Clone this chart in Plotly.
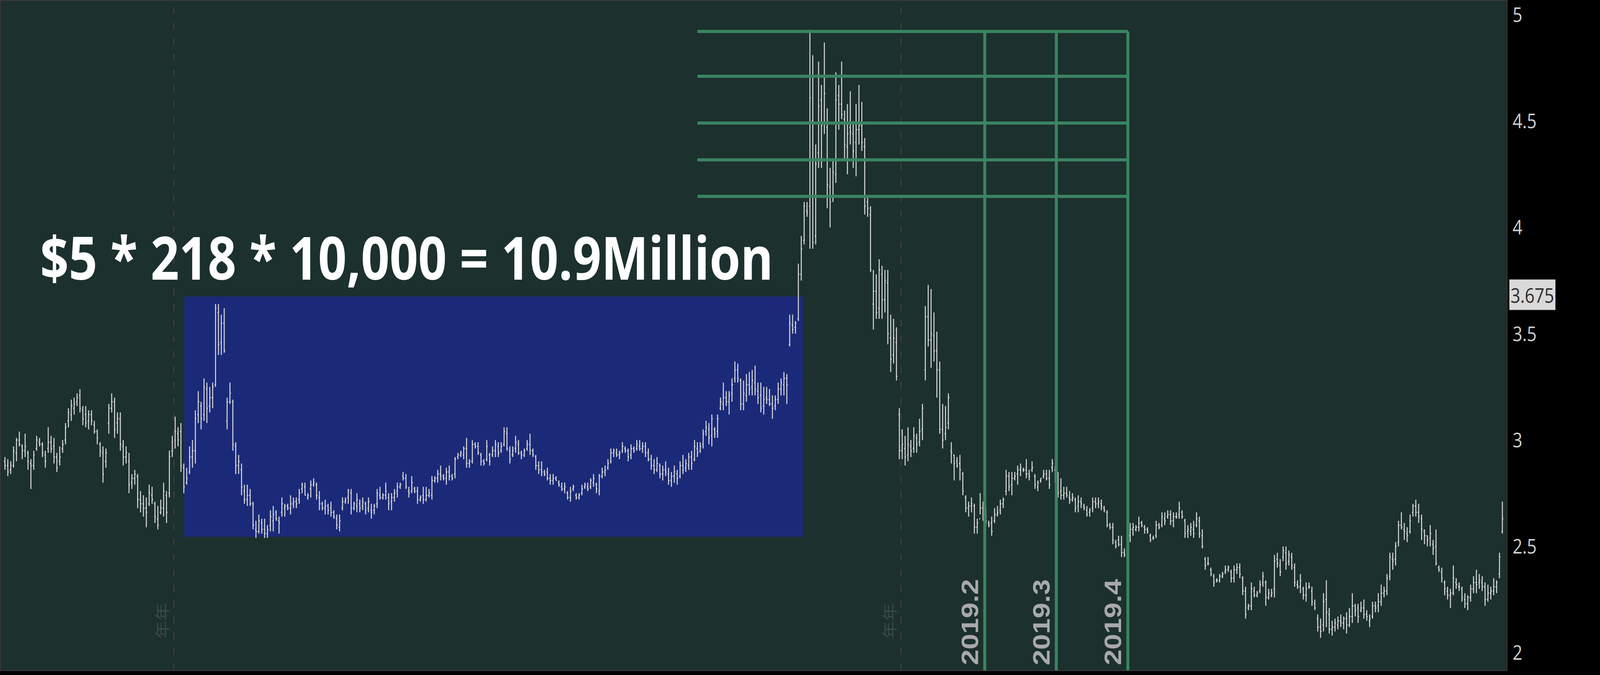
import plotly.graph_objects as go

# ---------------- data (daily OHLC bars) ----------------
OPEN = [
 2.90,2.88,2.86,2.88,2.94,3.00,2.97,2.95,2.94,2.89, 2.88,2.96,2.99,2.98,2.93,2.96,2.99,2.97,2.92,2.90,
 2.96,3.00,3.09,3.12,3.15,3.18,3.21,3.14,3.12,3.09, 3.12,3.07,3.04,2.98,2.94,2.90,3.08,3.15,3.18,3.08,
 3.10,2.97,2.92,2.90,2.80,2.82,2.83,2.72,2.70,2.68, 2.70,2.74,2.70,2.63,2.66,2.68,2.74,2.75,2.95,3.00,
 3.03,3.04,
 2.87,2.80,2.85,2.92,2.95,3.12,3.16,3.12,3.24,3.16, 3.20,3.26,3.60,3.46,3.55,3.09,3.18,3.18,2.97,2.88,
 2.86,2.76,2.72,2.74,2.70,2.58,2.57,2.61,2.58,2.56, 2.60,2.62,2.66,2.62,2.66,2.68,2.69,2.68,2.70,2.71,
 2.72,2.77,2.78,2.73,2.77,2.79,2.79,2.73,2.70,2.68, 2.69,2.68,2.66,2.63,2.59,2.68,2.71,2.73,2.75,2.68,
 2.69,2.70,2.69,2.70,2.68,2.67,2.67,2.70,2.74,2.73, 2.74,2.73,2.71,2.73,2.76,2.78,2.83,2.82,2.76,
 2.76,2.77,2.76,2.72,2.74,2.72,2.74,2.74,2.81,2.82, 2.84,2.83,2.82,2.85,2.83,2.84,2.92,2.93,2.93,2.96,
 2.89,2.90,2.98,2.97,2.93,2.90,2.91,2.93,2.93,2.95, 2.97,2.95,2.98,3.03,2.95,2.93,2.96,2.98,2.94,2.93,
 2.96,2.98,2.95,2.92,2.88,2.86,2.85,2.85,2.82,2.81, 2.82,2.80,2.78,2.77,2.75,2.73,2.77,2.74,2.73,2.75,
 2.78,2.78,2.78,2.80,2.79,2.76,2.83,2.85,2.87,2.90, 2.94,2.94,2.93,2.95,2.96,2.95,2.93,2.96,2.96,2.97,2.96,
 2.97,2.94,2.91,2.88,2.86,2.88,2.84,2.86,2.84,2.81, 2.83,2.84,2.83,2.88,2.87,2.88,2.92,2.91,2.96,2.95,
 2.98,3.04,3.05,3.02,3.05,3.04,3.15,3.17,3.20,3.18, 3.22,3.29,3.33,3.28,3.17,3.21,3.26,3.25,3.27,3.23,
 3.21,3.16,3.20,3.19,3.17,3.16,3.19,3.24,3.26,3.29, 3.45,3.54,3.53,3.57,3.78,3.94,4.08,4.10,4.50,3.96,
 4.35,4.60,4.49,4.47,4.19,4.14,4.25,4.62,4.58,4.51, 4.38,4.47,4.44,4.40,4.46,4.48,4.38,4.12,4.06,3.64,
 3.70,3.62,3.78,3.66,3.74,3.48,3.40,3.46,3.12,2.95, 2.96,2.93,2.97,2.96,3.01,2.99,3.05,3.33,3.58,3.47,
 3.49,3.42,3.33,3.05,3.03,3.08,2.95,2.93,2.90,2.89, 2.84,2.73,2.68,2.69,2.69,2.59,2.63,2.68,2.65,2.61,
 2.61,2.62,2.65,2.67,2.70,2.76,2.83,2.79,2.82,2.84, 2.86,2.86,2.86,2.84,2.86,2.83,2.78,2.81,2.83,2.84,
 2.82,2.87,2.86,2.80,2.76,2.74,2.75,2.73,2.72,2.72, 2.69,2.71,2.69,2.67,2.66,2.68,2.71,2.70,2.70,2.68,
 2.66,2.60,2.59,2.52,
 2.53,2.51,2.47,2.48,2.55,2.58,2.58,2.59,2.61,2.59, 2.58,2.55,2.54,2.55,2.60,2.60,2.63,2.64,2.65,2.62,
 2.64,2.65,2.66,2.62,2.57,2.57,2.58,2.60,2.62,2.55, 2.44,2.42,2.39,2.36,2.34,2.34,2.36,2.38,2.39,2.38,
 2.35,2.39,2.40,2.35,2.29,2.21,2.22,2.29,2.27,2.29, 2.33,2.33,2.26,2.27,2.30,2.44,2.41,2.45,2.47,2.43,
 2.45,2.40,2.32,2.31,2.30,2.27,2.31,2.29,2.23,2.16, 2.12,2.13,2.25,2.18,2.11,2.12,2.13,2.15,2.14,2.16,
 2.13,2.17,2.22,2.21,2.20,2.21,2.18,2.15,2.17,2.22, 2.22,2.24,2.28,2.29,2.36,2.44,2.44,2.52,2.60,2.58,
 2.56,2.57,2.66,2.69,2.66,2.63,2.57,2.55,2.54,2.51, 2.50,2.40,2.38,2.33,2.29,2.27,2.28,2.33,2.31,2.30,
 2.25,2.23,2.26,2.30,2.33,2.33,2.33,2.31,2.25,2.28, 2.29,2.31,2.37,2.57,
]
HIGH = [
 2.92,2.91,2.90,2.97,3.01,3.04,2.98,3.03,2.95,2.91, 2.95,3.02,3.01,2.99,2.95,3.06,3.02,3.01,2.94,2.97,
 3.00,3.08,3.15,3.19,3.20,3.22,3.24,3.16,3.16,3.14, 3.14,3.09,3.05,2.99,2.97,2.96,3.17,3.22,3.20,3.13,
 3.13,3.00,2.97,2.94,2.84,2.86,2.84,2.76,2.74,2.73, 2.79,2.78,2.71,2.69,2.72,2.80,2.76,2.95,3.02,3.11,
 3.06,3.08,
 2.89,2.87,2.97,3.00,3.14,3.23,3.18,3.29,3.27,3.25, 3.27,3.64,3.64,3.59,3.62,3.20,3.27,3.19,2.99,2.93,
 2.89,2.79,2.79,2.77,2.71,2.62,2.65,2.63,2.63,2.60, 2.67,2.69,2.67,2.64,2.73,2.70,2.70,2.74,2.73,2.73,
 2.77,2.80,2.80,2.75,2.81,2.82,2.80,2.76,2.71,2.72, 2.70,2.71,2.67,2.65,2.65,2.73,2.73,2.77,2.77,2.71,
 2.75,2.72,2.73,2.71,2.73,2.70,2.70,2.77,2.78,2.75, 2.80,2.75,2.75,2.77,2.80,2.80,2.85,2.84,2.78,
 2.83,2.78,2.78,2.74,2.78,2.78,2.77,2.83,2.83,2.86, 2.88,2.84,2.87,2.88,2.84,2.92,2.94,2.95,2.97,3.01,
 2.91,3.00,2.99,2.99,2.94,2.91,3.00,2.94,2.97,3.00, 2.99,2.99,3.06,3.06,2.97,2.97,3.02,3.00,2.95,2.96,
 3.00,3.03,2.96,2.93,2.90,2.90,2.86,2.87,2.84,2.84, 2.83,2.81,2.80,2.80,2.76,2.78,2.79,2.75,2.75,2.79,
 2.80,2.80,2.82,2.84,2.80,2.84,2.87,2.88,2.91,2.96, 2.96,2.96,2.95,2.99,2.97,2.96,2.98,2.97,3.00,3.00,2.99,
 2.99,2.96,2.93,2.91,2.92,2.89,2.88,2.90,2.87,2.85, 2.88,2.86,2.90,2.93,2.91,2.94,2.95,3.00,2.99,2.99,
 3.05,3.09,3.08,3.12,3.06,3.12,3.20,3.27,3.23,3.23, 3.29,3.37,3.36,3.29,3.28,3.31,3.32,3.33,3.35,3.27,
 3.27,3.25,3.25,3.24,3.21,3.21,3.27,3.29,3.32,3.31, 3.59,3.59,3.56,3.83,3.96,4.12,4.12,4.93,4.81,4.39,
 4.78,4.67,4.87,4.56,4.28,4.32,4.73,4.67,4.78,4.55, 4.58,4.64,4.50,4.58,4.67,4.59,4.42,4.14,4.10,3.80,
 3.78,3.85,3.82,3.80,3.80,3.59,3.57,3.53,3.15,3.05, 3.02,3.06,3.00,3.06,3.03,3.10,3.17,3.63,3.73,3.71,
 3.60,3.51,3.37,3.17,3.16,3.22,2.99,2.93,2.92,2.93, 2.85,2.74,2.71,2.73,2.70,2.63,2.75,2.71,2.68,2.62,
 2.64,2.68,2.69,2.72,2.73,2.86,2.85,2.85,2.85,2.88, 2.89,2.87,2.91,2.86,2.90,2.84,2.81,2.82,2.86,2.86,
 2.86,2.91,2.88,2.85,2.82,2.78,2.78,2.76,2.75,2.73, 2.74,2.73,2.70,2.69,2.68,2.73,2.73,2.73,2.72,2.69,
 2.67,2.61,2.61,2.53,
 2.55,2.55,2.49,2.56,2.61,2.61,2.60,2.64,2.62,2.60, 2.59,2.56,2.55,2.62,2.61,2.66,2.66,2.67,2.67,2.66,
 2.66,2.71,2.67,2.63,2.60,2.61,2.62,2.66,2.64,2.58, 2.45,2.45,2.40,2.37,2.35,2.37,2.38,2.41,2.41,2.39,
 2.41,2.42,2.42,2.36,2.31,2.23,2.33,2.31,2.29,2.34, 2.38,2.34,2.30,2.30,2.46,2.47,2.44,2.50,2.50,2.48,
 2.47,2.42,2.34,2.37,2.31,2.33,2.33,2.31,2.25,2.18, 2.16,2.28,2.34,2.21,2.15,2.16,2.17,2.18,2.17,2.19,
 2.21,2.28,2.23,2.23,2.24,2.25,2.20,2.18,2.24,2.24, 2.28,2.32,2.31,2.37,2.47,2.47,2.52,2.62,2.66,2.61,
 2.59,2.65,2.70,2.72,2.70,2.65,2.58,2.55,2.60,2.53, 2.58,2.41,2.40,2.34,2.31,2.30,2.41,2.35,2.33,2.31,
 2.28,2.27,2.32,2.36,2.39,2.37,2.36,2.33,2.32,2.31, 2.35,2.34,2.47,2.71,
]
LOW = [
 2.86,2.83,2.84,2.87,2.90,2.97,2.91,2.92,2.86,2.77, 2.86,2.95,2.97,2.92,2.87,2.94,2.94,2.89,2.85,2.88,
 2.94,2.98,3.06,3.09,3.12,3.16,3.13,3.07,3.06,3.05, 3.07,3.03,2.98,2.92,2.80,2.87,3.03,3.13,3.01,3.03,
 2.95,2.88,2.89,2.75,2.77,2.79,2.68,2.66,2.64,2.59, 2.69,2.70,2.61,2.58,2.65,2.64,2.61,2.73,2.92,2.96,
 2.97,2.85,
 2.75,2.79,2.84,2.87,2.89,3.08,3.05,3.09,3.08,3.13, 3.15,3.25,3.40,3.40,3.41,3.05,3.17,2.95,2.84,2.84,
 2.74,2.70,2.69,2.69,2.58,2.54,2.56,2.56,2.54,2.54, 2.57,2.57,2.62,2.56,2.64,2.64,2.67,2.65,2.68,2.68,
 2.70,2.75,2.74,2.72,2.73,2.78,2.72,2.67,2.67,2.65, 2.65,2.64,2.63,2.58,2.57,2.67,2.70,2.70,2.65,2.67,
 2.66,2.66,2.67,2.65,2.66,2.63,2.65,2.68,2.72,2.72, 2.72,2.67,2.67,2.71,2.73,2.77,2.81,2.77,2.73,
 2.75,2.75,2.70,2.71,2.70,2.71,2.73,2.72,2.80,2.80, 2.81,2.81,2.79,2.81,2.81,2.82,2.91,2.92,2.91,2.87,
 2.87,2.89,2.96,2.93,2.88,2.88,2.90,2.88,2.92,2.92, 2.92,2.94,2.97,2.95,2.89,2.92,2.94,2.93,2.91,2.92,
 2.95,2.93,2.92,2.86,2.84,2.83,2.83,2.81,2.79,2.79, 2.81,2.78,2.76,2.75,2.72,2.71,2.76,2.72,2.72,2.74,
 2.77,2.76,2.77,2.78,2.75,2.74,2.82,2.83,2.86,2.89, 2.92,2.92,2.91,2.94,2.94,2.90,2.91,2.94,2.95,2.95,2.94,
 2.92,2.90,2.86,2.84,2.85,2.82,2.81,2.83,2.79,2.78, 2.80,2.79,2.82,2.84,2.85,2.86,2.86,2.90,2.92,2.94,
 2.96,3.02,2.98,2.97,3.01,3.01,3.14,3.14,3.16,3.12, 3.18,3.27,3.27,3.14,3.14,3.18,3.21,3.21,3.21,3.17,
 3.13,3.12,3.17,3.16,3.10,3.14,3.17,3.21,3.21,3.17, 3.44,3.50,3.50,3.56,3.75,3.92,4.05,3.90,3.90,3.92,
 4.28,4.28,4.44,4.09,4.00,4.12,4.21,4.46,4.51,4.32, 4.25,4.39,4.28,4.24,4.39,4.36,4.06,4.05,3.79,3.52,
 3.57,3.57,3.57,3.60,3.45,3.32,3.36,3.28,2.91,2.91, 2.88,2.90,2.92,2.94,2.94,2.97,3.00,3.28,3.44,3.34,
 3.37,3.20,3.03,2.96,3.00,3.05,2.89,2.81,2.87,2.81, 2.74,2.66,2.64,2.66,2.56,2.56,2.65,2.62,2.60,2.59,
 2.55,2.61,2.64,2.65,2.68,2.74,2.76,2.74,2.81,2.79, 2.83,2.85,2.82,2.81,2.85,2.77,2.76,2.80,2.82,2.81,
 2.77,2.85,2.80,2.73,2.72,2.72,2.73,2.70,2.71,2.66, 2.66,2.68,2.67,2.64,2.64,2.66,2.68,2.68,2.67,2.66,
 2.59,2.58,2.51,2.49,
 2.50,2.45,2.45,2.47,2.52,2.55,2.57,2.57,2.59,2.56, 2.56,2.52,2.53,2.54,2.58,2.59,2.60,2.63,2.60,2.59,
 2.63,2.63,2.63,2.54,2.54,2.55,2.54,2.59,2.54,2.49, 2.39,2.41,2.36,2.31,2.33,2.33,2.35,2.37,2.38,2.33,
 2.33,2.37,2.35,2.27,2.16,2.20,2.20,2.26,2.26,2.28, 2.31,2.22,2.25,2.26,2.26,2.40,2.36,2.43,2.39,2.41,
 2.39,2.31,2.30,2.28,2.25,2.24,2.30,2.22,2.20,2.10, 2.07,2.10,2.12,2.09,2.08,2.10,2.11,2.12,2.11,2.09,
 2.12,2.14,2.17,2.14,2.19,2.16,2.15,2.12,2.16,2.19, 2.19,2.22,2.26,2.27,2.34,2.39,2.41,2.50,2.58,2.53,
 2.52,2.56,2.64,2.64,2.61,2.53,2.51,2.50,2.50,2.46, 2.41,2.38,2.33,2.27,2.25,2.21,2.27,2.30,2.29,2.24,
 2.21,2.20,2.24,2.28,2.28,2.30,2.29,2.22,2.24,2.25, 2.27,2.28,2.35,2.56,
]
CLOSE = [
 2.88,2.85,2.88,2.95,3.00,2.98,2.95,2.97,2.90,2.88, 2.93,3.00,2.98,2.94,2.90,2.99,2.96,2.92,2.87,2.92,
 2.98,3.06,3.13,3.16,3.17,3.20,3.15,3.10,3.08,3.12, 3.09,3.04,3.01,2.95,2.84,2.94,3.15,3.18,3.05,3.10,
 2.98,2.92,2.94,2.79,2.82,2.84,2.72,2.70,2.68,2.66, 2.75,2.72,2.64,2.60,2.68,2.76,2.66,2.92,2.99,3.04,
 3.00,2.88,
 2.78,2.82,2.92,2.95,3.10,3.18,3.10,3.25,3.15,3.20, 3.25,3.62,3.45,3.55,3.42,3.18,3.22,2.98,2.88,2.90,
 2.78,2.72,2.74,2.70,2.60,2.57,2.62,2.58,2.56,2.58, 2.64,2.65,2.63,2.61,2.70,2.69,2.68,2.70,2.71,2.70,
 2.75,2.79,2.74,2.74,2.79,2.80,2.74,2.70,2.68,2.69, 2.67,2.66,2.64,2.60,2.62,2.71,2.72,2.76,2.68,2.70,
 2.72,2.68,2.71,2.67,2.71,2.66,2.69,2.75,2.73,2.74, 2.76,2.70,2.73,2.75,2.78,2.79,2.82,2.78,2.75,
 2.80,2.76,2.72,2.73,2.72,2.74,2.75,2.81,2.82,2.84, 2.83,2.82,2.85,2.83,2.82,2.91,2.93,2.94,2.96,2.89,
 2.90,2.98,2.97,2.94,2.90,2.89,2.97,2.90,2.95,2.98, 2.94,2.97,3.04,2.96,2.91,2.95,2.99,2.94,2.93,2.95,
 2.98,2.95,2.93,2.88,2.86,2.85,2.84,2.82,2.81,2.82, 2.81,2.79,2.77,2.78,2.73,2.76,2.78,2.73,2.74,2.77,
 2.79,2.77,2.81,2.82,2.77,2.83,2.85,2.86,2.89,2.94, 2.95,2.93,2.94,2.97,2.95,2.92,2.96,2.95,2.98,2.96,2.97,
 2.94,2.91,2.88,2.86,2.89,2.84,2.86,2.85,2.81,2.83, 2.85,2.82,2.88,2.86,2.89,2.92,2.89,2.97,2.94,2.97,
 3.03,3.06,3.01,3.10,3.03,3.10,3.18,3.20,3.18,3.21, 3.26,3.33,3.29,3.17,3.22,3.26,3.24,3.28,3.24,3.20,
 3.15,3.19,3.19,3.17,3.15,3.19,3.24,3.27,3.29,3.26, 3.55,3.52,3.55,3.78,3.90,4.10,4.07,4.61,3.93,4.30,
 4.57,4.48,4.63,4.20,4.12,4.26,4.60,4.58,4.53,4.39, 4.44,4.45,4.36,4.46,4.48,4.40,4.10,4.09,3.80,3.70,
 3.60,3.80,3.66,3.75,3.50,3.38,3.48,3.30,2.95,2.98, 2.92,2.98,2.95,3.02,2.98,3.04,3.15,3.58,3.47,3.50,
 3.42,3.33,3.05,3.00,3.06,3.20,2.94,2.89,2.88,2.86, 2.76,2.68,2.69,2.70,2.59,2.61,2.68,2.64,2.62,2.60,
 2.57,2.65,2.66,2.70,2.72,2.83,2.78,2.82,2.83,2.86, 2.87,2.86,2.84,2.83,2.87,2.79,2.80,2.82,2.84,2.82,
 2.79,2.89,2.83,2.75,2.74,2.75,2.74,2.72,2.73,2.68, 2.71,2.70,2.68,2.65,2.67,2.71,2.70,2.71,2.69,2.67,
 2.60,2.59,2.53,2.50,
 2.51,2.47,2.46,2.54,2.58,2.59,2.59,2.61,2.60,2.58, 2.57,2.53,2.54,2.60,2.59,2.64,2.62,2.65,2.62,2.64,
 2.64,2.68,2.64,2.56,2.58,2.59,2.56,2.63,2.56,2.50, 2.41,2.42,2.37,2.33,2.34,2.36,2.37,2.39,2.40,2.35,
 2.39,2.40,2.37,2.29,2.18,2.22,2.30,2.27,2.28,2.32, 2.36,2.26,2.28,2.28,2.43,2.42,2.38,2.48,2.42,2.46,
 2.41,2.33,2.31,2.34,2.27,2.30,2.31,2.24,2.21,2.12, 2.10,2.24,2.19,2.11,2.12,2.14,2.15,2.14,2.16,2.13,
 2.17,2.22,2.20,2.17,2.21,2.18,2.17,2.16,2.22,2.21, 2.24,2.28,2.29,2.35,2.45,2.43,2.50,2.60,2.59,2.57,
 2.55,2.62,2.69,2.66,2.64,2.58,2.55,2.53,2.56,2.49, 2.42,2.39,2.35,2.30,2.27,2.28,2.35,2.32,2.31,2.26,
 2.23,2.26,2.30,2.33,2.32,2.34,2.31,2.25,2.28,2.29, 2.31,2.33,2.45,2.63,
]
BAR_INDEX = list(range(len(CLOSE)))
assert len(OPEN) == len(HIGH) == len(LOW) == len(CLOSE) == 520, (len(OPEN), len(HIGH), len(LOW), len(CLOSE))

# annotation values
Y_TICKS = [2, 2.5, 3, 3.5, 4, 4.5, 5]
Y_TICK_TEXT = ["2", "2.5", "3", "3.5", "4", "4.5", "5"]
LAST_PRICE_LABEL = "3.675"
BOX_PRICE_RANGE = [2.545, 3.675]
BOX_BAR_RANGE = [62.1, 276.6]
GRID_LEVELS = [4.922, 4.711, 4.491, 4.318, 4.146]
GRID_START_BAR = 240
QUARTER_BARS = [339.6, 364.4, 389.2]
QUARTER_LABELS = ["2019.2", "2019.3", "2019.4"]
YEAR_SEP_BARS = [58.55, 310.6]
HEADLINE = "$5 * 218 * 10,000 = 10.9Million"

X_RANGE = [-1.48, 520.46]
Y_RANGE = [1.917, 5.066]

BAR_COLOR = "#dadada"
GREEN = "#3a8462"
FIG_W, FIG_H = 4864, 1728

fig = go.Figure()
fig.add_trace(go.Ohlc(
    x=BAR_INDEX, open=OPEN, high=HIGH, low=LOW, close=CLOSE,
    increasing=dict(line=dict(color=BAR_COLOR, width=3)),
    decreasing=dict(line=dict(color=BAR_COLOR, width=3)),
    tickwidth=0.32, hoverinfo="skip", showlegend=False,
))

shapes = []
shapes.append(dict(type="rect", xref="x", yref="y",
                   x0=BOX_BAR_RANGE[0], x1=BOX_BAR_RANGE[1],
                   y0=BOX_PRICE_RANGE[0], y1=BOX_PRICE_RANGE[1],
                   fillcolor="#1b2a78", line=dict(width=0), layer="below"))
for xb in YEAR_SEP_BARS:
    shapes.append(dict(type="line", xref="x", yref="paper", x0=xb, x1=xb, y0=0, y1=1,
                       line=dict(color="#4a3f3f", width=3, dash="18px,22px"), layer="below"))
for lv in GRID_LEVELS:
    shapes.append(dict(type="line", xref="x", yref="y", x0=GRID_START_BAR, x1=QUARTER_BARS[-1],
                       y0=lv, y1=lv, line=dict(color=GREEN, width=8), layer="above"))
for xb in QUARTER_BARS:
    shapes.append(dict(type="line", xref="x", yref="y", x0=xb, x1=xb,
                       y0=Y_RANGE[0], y1=GRID_LEVELS[0], line=dict(color=GREEN, width=9), layer="above"))

annotations = []
annotations.append(dict(text=HEADLINE, xref="paper", yref="y", x=0.0258, y=3.862,
                        xanchor="left", yanchor="middle", showarrow=False,
                        font=dict(family="Open Sans", size=152, color="#ffffff", weight="bold")))
for xb, lab in zip(QUARTER_BARS, QUARTER_LABELS):
    annotations.append(dict(text=lab, xref="x", yref="paper", x=xb, y=0, xanchor="right",
                            yanchor="bottom", xshift=-3, yshift=11, textangle=-90, showarrow=False,
                            font=dict(family="Liberation Sans", size=72, color="#a9a9a9", weight="bold")))
for xb in YEAR_SEP_BARS:
    annotations.append(dict(text="年年", xref="x", yref="paper", x=xb, y=0, xanchor="right",
                            yanchor="bottom", xshift=-3, yshift=78, textangle=-90, showarrow=False,
                            font=dict(family="Noto Sans CJK SC", size=46, color="#3e4845")))
annotations.append(dict(text=LAST_PRICE_LABEL, xref="paper", yref="y", x=1, y=3.683,
                        xanchor="left", yanchor="middle", xshift=8, showarrow=False,
                        bgcolor="#d9d9d9", borderpad=3,
                        font=dict(family="Open Sans", size=52, color="#2b2b2b")))

fig.update_layout(
    width=FIG_W, height=FIG_H,
    margin=dict(l=0, r=284, t=0, b=12, pad=0),
    paper_bgcolor="#000000", plot_bgcolor="#1c302d",
    shapes=shapes, annotations=annotations, showlegend=False,
    xaxis=dict(range=X_RANGE, showgrid=False, zeroline=False, showticklabels=False,
               rangeslider=dict(visible=False), showline=True, mirror=True,
               linecolor="#3c3c3c", linewidth=2, ticks=""),
    yaxis=dict(range=Y_RANGE, side="right", tickvals=Y_TICKS, ticktext=Y_TICK_TEXT,
               showgrid=False, zeroline=False, ticks="outside", ticklen=6,
               tickcolor="rgba(0,0,0,0)", showline=True, mirror=True,
               linecolor="#3c3c3c", linewidth=2,
               tickfont=dict(family="Open Sans", size=52, color="#d0d0d0")),
)

# The browser viewport can be narrower than the requested 4864 px (screen limit);
# scale the fixed-size figure so that it exactly fills the viewport.
FIT_SCRIPT = """
document.documentElement.style.margin='0';
document.body.style.margin='0';
document.body.style.background='#000';
document.documentElement.style.overflow='hidden';
document.body.style.overflow='hidden';
var gd=document.getElementById('{plot_id}');
var kx=Math.min(window.innerWidth/%d, 1);
var ky=Math.min(window.innerHeight/%d, 1);
if (kx < 0.999 || ky < 0.999) {
  gd.style.transformOrigin='0 0';
  gd.style.transform='scale('+kx+','+ky+')';
}
""" % (FIG_W, FIG_H)

fig.write_html("out.html", post_script=FIT_SCRIPT, config=dict(displayModeBar=False))
